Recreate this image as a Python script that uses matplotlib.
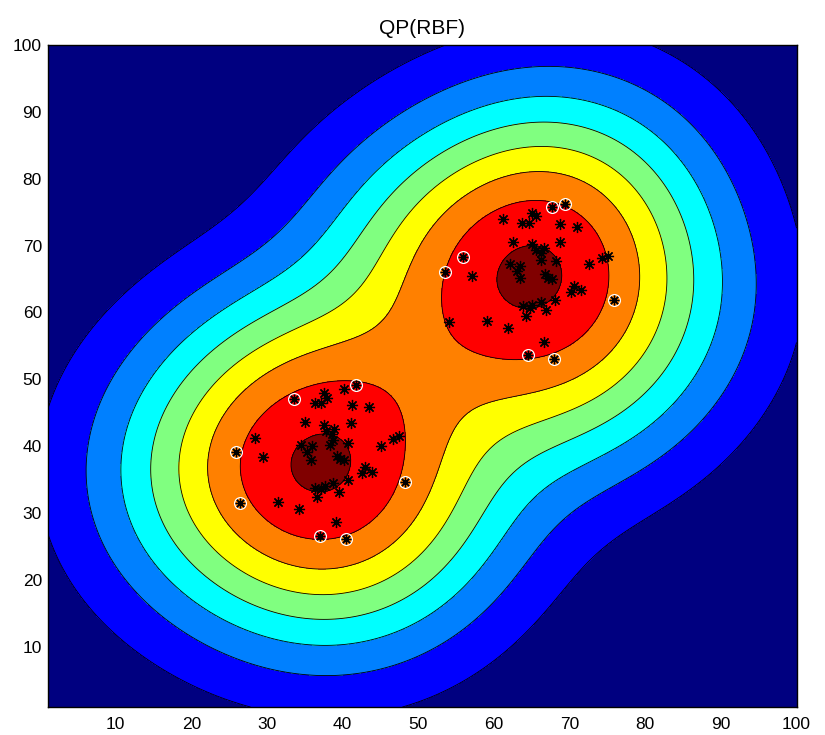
import numpy as np
import matplotlib.pyplot as plt

plt.rcParams["font.family"] = ["Liberation Sans", "DejaVu Sans"]

# ---------- data: two point clouds ----------
pts_x = [41.8, 40.2, 37.6, 37.9, 36.3, 37.1, 33.6, 41.3, 43.5, 35.0,
         41.1, 37.6, 38.9, 37.8, 38.6, 28.4, 38.3, 38.7, 40.7, 45.1,
         46.7, 47.5, 34.5, 36.0, 35.3, 25.9, 29.5, 39.2, 39.6, 40.2,
         35.8, 43.0, 43.9, 42.6, 40.7, 38.7, 37.7, 36.3, 37.2, 39.5,
         36.6, 48.3, 26.5, 31.5, 34.3, 39.1, 37.0, 40.4,
         67.7, 69.4, 61.2, 65.1, 65.5, 63.7, 64.6, 68.8, 71.0, 62.5,
         68.7, 65.1, 66.6, 65.5, 66.2, 55.9, 66.2, 68.2, 72.6, 74.3,
         75.1, 62.1, 63.5, 63.0, 53.5, 57.1, 66.8, 67.1, 67.7, 63.4,
         70.6, 71.5, 70.2, 68.1, 66.2, 65.1, 63.9, 64.8, 66.9, 64.3,
         75.9, 54.0, 59.1, 61.8, 66.6, 64.5, 68.0]
pts_y = [49.1, 48.6, 47.9, 47.2, 46.5, 46.5, 47.0, 46.1, 45.8, 43.6,
         43.5, 43.1, 42.6, 42.3, 41.8, 41.3, 40.2, 41.0, 40.5, 40.1,
         41.1, 41.6, 40.2, 40.0, 39.2, 39.1, 38.4, 38.6, 38.1, 37.9,
         38.0, 36.9, 36.2, 36.0, 34.9, 34.5, 34.0, 33.8, 33.6, 33.2,
         32.4, 34.7, 31.5, 31.6, 30.6, 28.6, 26.5, 26.1,
         75.7, 76.2, 74.0, 74.9, 74.4, 73.4, 73.4, 73.2, 72.8, 70.6,
         70.5, 70.2, 69.7, 69.4, 68.9, 68.3, 67.9, 67.7, 67.2, 68.2,
         68.5, 67.3, 67.0, 66.2, 66.1, 65.4, 65.7, 65.2, 65.0, 65.1,
         64.0, 63.4, 63.0, 61.9, 61.6, 61.1, 60.9, 60.7, 60.4, 59.5,
         61.8, 58.6, 58.7, 57.7, 55.6, 53.6, 53.1]
# 1 = support vector
is_sv = [1, 0, 0, 0, 0, 0, 1, 0, 0, 0,
         0, 0, 0, 0, 0, 0, 0, 0, 0, 0,
         0, 0, 0, 0, 0, 1, 0, 0, 0, 0,
         0, 0, 0, 0, 0, 0, 0, 0, 0, 0,
         0, 1, 1, 0, 0, 0, 1, 1,
         1, 1, 0, 0, 0, 0, 0, 0, 0, 0,
         0, 0, 0, 0, 0, 1, 0, 0, 0, 0,
         0, 0, 0, 0, 1, 0, 0, 0, 0, 0,
         0, 0, 0, 0, 0, 0, 0, 0, 0, 0,
         1, 0, 0, 0, 0, 1, 1]

sigma = 11.2          # RBF width
power = 0.55
inner_weight = 0.06   # weight of the non-support points
n_bands = 9
jet9 = ["#000080", "#0000ff", "#0080ff", "#00ffff", "#80ff80",
        "#ffff00", "#ff8000", "#ff0000", "#800000"]

px = np.array(pts_x)
py = np.array(pts_y)
sv = np.array(is_sv, dtype=bool)
alpha = np.where(sv, 1.0, inner_weight)

# ---------- RBF score on a grid ----------
g = np.linspace(1, 100, 199)
X, Y = np.meshgrid(g, g)
d2 = (X[..., None] - px) ** 2 + (Y[..., None] - py) ** 2
K = (alpha * np.exp(-d2 / (2 * sigma ** 2))).sum(axis=-1)
Z = K ** power

step = Z.max() / 8.2
levels = step * np.arange(n_bands + 1)

# ---------- plot ----------
fig = plt.figure(figsize=(8.25, 7.35), dpi=100)
ax = fig.add_axes([0.0576, 0.0381, 0.9079, 0.9007])

ax.contourf(X, Y, Z, levels=levels, colors=jet9)
ax.contour(X, Y, Z, levels=levels[1:-1], colors="k", linewidths=0.6)

ax.plot(px, py, linestyle="none", marker=(8, 2, 0), markersize=8,
        markeredgewidth=0.9, color="k")
ax.plot(px[sv], py[sv], linestyle="none", marker="o", markersize=8.5,
        markerfacecolor="none", markeredgecolor="w", markeredgewidth=0.9)

ax.set_xlim(1, 100)
ax.set_ylim(1, 100)
ax.set_xticks(np.arange(10, 101, 10))
ax.set_yticks(np.arange(10, 101, 10))
ax.tick_params(length=0, labelsize=12.5)
ax.tick_params(axis="x", pad=7)
ax.tick_params(axis="y", pad=4)
for sp in ax.spines.values():
    sp.set_linewidth(1.0)
ax.set_title("QP(RBF)", fontsize=15, pad=8)

fig.savefig("out.png", dpi=100)
